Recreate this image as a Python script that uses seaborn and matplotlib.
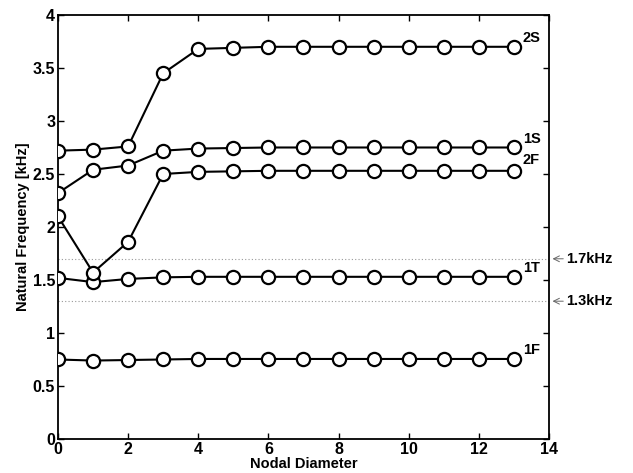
import numpy as np
import pandas as pd
import matplotlib
matplotlib.use("Agg")
import matplotlib.pyplot as plt
import seaborn as sns

# Nodal diameters and natural frequencies [kHz] per mode
nodal_diameter = list(range(14))
freq_1F = [0.75, 0.74, 0.745, 0.75, 0.755, 0.755, 0.755, 0.755, 0.755, 0.755, 0.755, 0.755, 0.755, 0.755]
freq_1T = [1.52, 1.48, 1.51, 1.525, 1.53, 1.53, 1.53, 1.53, 1.53, 1.53, 1.53, 1.53, 1.53, 1.53]
freq_2F = [2.10, 1.57, 1.86, 2.50, 2.52, 2.525, 2.53, 2.53, 2.53, 2.53, 2.53, 2.53, 2.53, 2.53]
freq_1S = [2.32, 2.54, 2.58, 2.72, 2.74, 2.745, 2.75, 2.75, 2.75, 2.75, 2.75, 2.75, 2.75, 2.75]
freq_2S = [2.72, 2.73, 2.76, 3.45, 3.68, 3.69, 3.70, 3.70, 3.70, 3.70, 3.70, 3.70, 3.70, 3.70]
mode_names = ["1F", "1T", "2F", "1S", "2S"]
limit_lines = [1.7, 1.3]
limit_labels = ["1.7kHz", "1.3kHz"]
xtick_labels = ["0", "2", "4", "6", "8", "10", "12", "14"]
ytick_labels = ["0", "0.5", "1", "1.5", "2", "2.5", "3", "3.5", "4"]

series = [freq_1F, freq_1T, freq_2F, freq_1S, freq_2S]
df = pd.DataFrame({
    "nd": nodal_diameter * len(mode_names),
    "freq": sum(series, []),
    "mode": np.repeat(mode_names, len(nodal_diameter)),
})

sns.set_style("ticks")
plt.rcParams["font.family"] = ["Liberation Sans", "DejaVu Sans"]
plt.rcParams["font.weight"] = "bold"
plt.rcParams["text.color"] = "black"
plt.rcParams["axes.labelcolor"] = "black"
plt.rcParams["xtick.color"] = "black"
plt.rcParams["ytick.color"] = "black"

fig = plt.figure(figsize=(6.33, 4.73), dpi=100)
ax = fig.add_axes([0.0916, 0.0719, 0.7757, 0.8964])

# limit lines (dotted) behind the curves
for y in limit_lines:
    ax.axhline(y, color="#999999", linestyle=(0, (1, 2)), linewidth=0.8, zorder=1)

sns.lineplot(data=df, x="nd", y="freq", units="mode", estimator=None,
             color="black", linewidth=1.5, marker="o", markersize=9.5,
             markerfacecolor="white", markeredgecolor="black",
             markeredgewidth=1.6, ax=ax, zorder=3)

# mode labels at the right end of each curve
label_offsets = {"1F": 0.08, "1T": 0.08, "2F": 0.1, "1S": 0.08, "2S": 0.08}
for name, vals in zip(mode_names, series):
    ax.text(13.25, vals[-1] + label_offsets[name], name, fontsize=10.5,
            fontweight="bold", va="center", ha="left", color="black")

# arrows for the limit values outside the axes
for y, lab in zip(limit_lines, limit_labels):
    ax.annotate(lab, xy=(14.1, y), xytext=(14.5, y), xycoords="data",
                textcoords="data", va="center", ha="left", fontsize=10.5,
                fontweight="bold", color="black", annotation_clip=False,
                arrowprops=dict(arrowstyle="->", color="#666666", lw=0.7,
                                shrinkA=0, shrinkB=0))

ax.set_xlim(0, 14)
ax.set_ylim(0, 4)
ax.set_xticks(np.arange(0, 15, 2))
ax.set_xticklabels(xtick_labels, fontweight="bold", fontsize=11.5)
ax.set_yticks(np.arange(0, 4.01, 0.5))
ax.set_yticklabels(ytick_labels, fontweight="bold", fontsize=11.5)
ax.tick_params(direction="in", top=True, right=True, width=1,
               length=4, pad=2, colors="black")
ax.set_xlabel("Nodal Diameter", fontsize=10.5, fontweight="bold", labelpad=0)
ax.set_ylabel("Natural Frequency [kHz]", fontsize=10.5, fontweight="bold", labelpad=2)
for spine in ax.spines.values():
    spine.set_linewidth(1.3)
    spine.set_edgecolor("black")
ax.grid(False)

fig.savefig("out.png", dpi=100)
